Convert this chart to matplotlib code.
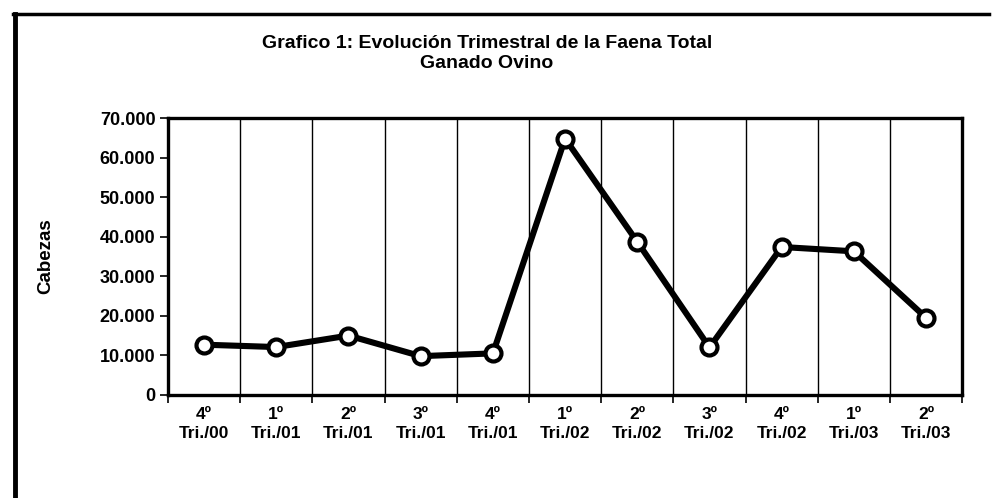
import numpy as np
import matplotlib.pyplot as plt
from matplotlib.lines import Line2D

plt.rcParams['font.family'] = ['Liberation Sans', 'DejaVu Sans']

# datos
trimestres = ['4º\nTri./00', '1º\nTri./01', '2º\nTri./01', '3º\nTri./01', '4º\nTri./01',
              '1º\nTri./02', '2º\nTri./02', '3º\nTri./02', '4º\nTri./02', '1º\nTri./03',
              '2º\nTri./03']
faena = [12700, 12100, 15000, 9800, 10500, 64800, 38700, 12000, 37400, 36300, 19500]
yticks = [0, 10000, 20000, 30000, 40000, 50000, 60000, 70000]
ylabels = ['0', '10.000', '20.000', '30.000', '40.000', '50.000', '60.000', '70.000']

fig = plt.figure(figsize=(9.94, 4.98), dpi=100)
ax = fig.add_axes([0.169, 0.207, 0.799, 0.556])

x = np.arange(len(faena))
ax.plot(x, faena, color='black', linewidth=4.4, marker='o', markersize=11.5,
        markerfacecolor='white', markeredgecolor='black', markeredgewidth=3.0, zorder=3)

ax.set_xlim(-0.5, len(faena) - 0.5)
ax.set_ylim(0, 70000)

# lineas verticales entre trimestres
bordes = np.arange(-0.5, len(faena), 1.0)
for b in bordes[1:-1]:
    ax.axvline(b, color='black', linewidth=1.0, zorder=1)

ax.set_xticks(bordes)
ax.set_xticklabels([])
ax.set_xticks(x, minor=True)
ax.set_xticklabels(trimestres, minor=True, fontsize=12.5, fontweight='bold', linespacing=1.3)
ax.tick_params(axis='x', which='major', direction='out', length=6, width=1.2)
ax.tick_params(axis='x', which='minor', length=0, pad=9)

ax.set_yticks(yticks)
ax.set_yticklabels(ylabels, fontsize=13, fontweight='bold')
ax.tick_params(axis='y', direction='out', length=6, width=1.2, pad=3)

for s in ax.spines.values():
    s.set_linewidth(2.4)

ax.set_ylabel('Cabezas', fontsize=13.5, fontweight='bold', labelpad=33)

fig.text(0.49, 0.913, 'Grafico 1: Evolución Trimestral de la Faena Total', ha='center',
         va='center', fontsize=14, fontweight='bold')
fig.text(0.49, 0.873, 'Ganado Ovino', ha='center', va='center', fontsize=14, fontweight='bold')

# marco del documento escaneado
fig.add_artist(Line2D([0.015, 0.015], [0.0, 0.972], color='black', linewidth=3.5))
fig.add_artist(Line2D([0.013, 0.995], [0.972, 0.972], color='black', linewidth=2.5))

fig.savefig('out.png', dpi=100)
